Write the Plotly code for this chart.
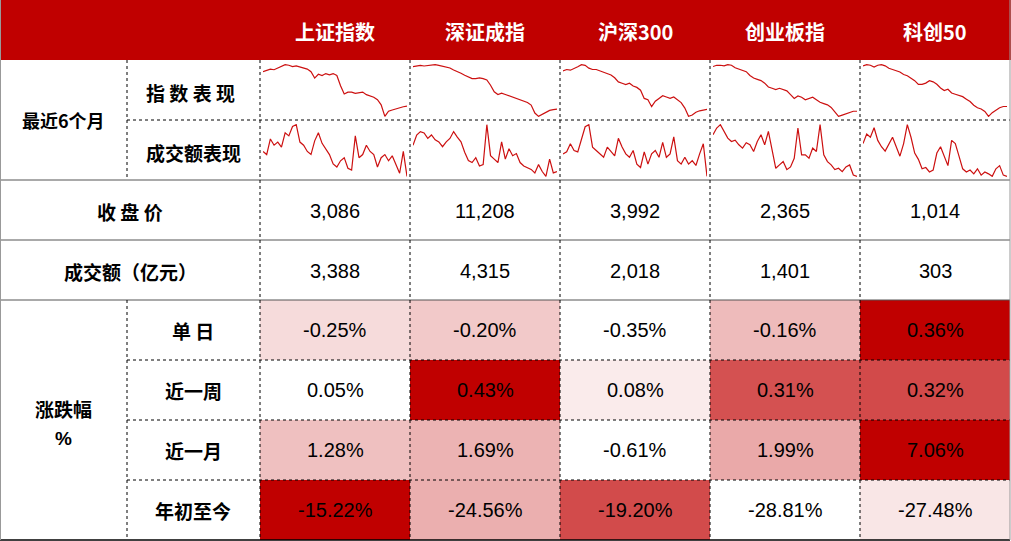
import plotly.graph_objects as go

W, H = 1011, 541
indices = ["上证指数", "深证成指", "沪深300", "创业板指", "科创50"]
close_px = ["3,086", "11,208", "3,992", "2,365", "1,014"]
turnover = ["3,388", "4,315", "2,018", "1,401", "303"]
period_labels = ["单日", "近一周", "近一月", "年初至今"]
changes = [
    [-0.25, -0.20, -0.35, -0.16, 0.36],
    [0.05, 0.43, 0.08, 0.31, 0.32],
    [1.28, 1.69, -0.61, 1.99, 7.06],
    [-15.22, -24.56, -19.20, -28.81, -27.48],
]
# sparkline data (estimated, relative levels)
idx_lines = [
    [80,82,84,83,86,88,91,90,88,89,87,86,84,80,70,76,74,77,75,77,74,58,45,48,48,46,47,48,44,42,40,36,28,10,18,20,22,24,25,26],
    [90,91,92,91,92,93,93,92,91,90,88,85,83,80,77,74,72,72,73,72,70,62,52,48,50,48,46,44,42,40,38,36,32,20,15,18,22,24,25,26],
    [82,84,83,85,88,91,90,86,84,84,82,80,78,76,72,66,64,62,64,60,58,54,42,40,30,38,42,46,44,42,44,40,36,28,16,18,22,24,25,26],
    [92,94,94,93,95,94,90,88,86,84,78,74,72,70,66,60,58,56,58,56,54,48,42,46,44,40,42,44,40,36,34,32,28,20,14,16,18,20,22,22],
    [94,96,95,92,95,96,94,90,88,86,84,80,78,74,70,64,64,66,70,68,64,58,54,56,50,48,46,44,40,36,30,26,24,20,12,18,22,26,28,28],
]
vol_lines = [
    [45,40,65,55,60,52,75,70,85,88,60,55,45,40,62,75,58,50,40,25,20,30,35,18,15,70,35,40,55,45,40,20,35,40,30,38,25,10,45,5],
    [50,65,70,68,60,65,58,55,48,55,60,70,62,55,40,28,25,32,20,22,80,35,30,25,55,30,45,35,38,25,20,18,15,10,22,12,5,30,10,12],
    [45,48,60,50,48,65,85,88,55,50,45,40,55,48,42,68,55,45,40,50,30,25,48,30,45,50,40,62,40,45,70,35,30,40,30,35,28,45,60,12],
    [70,80,85,75,65,60,62,55,50,58,55,45,60,70,55,75,50,20,25,30,18,22,35,80,40,40,35,50,45,85,40,30,25,18,20,15,22,25,10,8],
    [60,75,70,85,65,55,48,60,70,55,40,60,90,70,45,35,20,22,15,18,45,55,40,25,65,60,40,20,15,18,12,20,10,15,12,8,20,25,10,8],
]

def cell_color(v, lo, hi):
    t = 0 if hi == lo else (v - lo) / (hi - lo)
    r = round(255 + (192 - 255) * t)
    g = round(255 + (0 - 255) * t)
    b = round(255 + (0 - 255) * t)
    return f"rgb({r},{g},{b})"

col_x = [0, 127, 260, 410, 560, 710, 860, 1010]
row_y = [0, 60, 120, 180, 240, 300, 360, 420, 480, 540]
RED = "#C00000"
CJK = "Noto Sans CJK SC"
NUM = "Liberation Sans"

fig = go.Figure()
shapes, ann = [], []

def rect(x0, y0, x1, y1, color):
    shapes.append(dict(type="rect", xref="x", yref="y", x0=x0, x1=x1, y0=y0, y1=y1,
                       fillcolor=color, line=dict(width=0), layer="below"))

def line(x0, y0, x1, y1, dash="dot", color="black", width=1):
    shapes.append(dict(type="line", xref="x", yref="y", x0=x0, x1=x1, y0=y0, y1=y1,
                       line=dict(color=color, width=width, dash=dash)))

def text(x, y, s, font=CJK, size=19, color="black", bold=True):
    ann.append(dict(x=x, y=y, xref="x", yref="y", text=f"<b>{s}</b>" if bold else s,
                    showarrow=False, font=dict(family=font, size=size, color=color)))

# header
rect(0, 0, W, 60, RED)
for i, name in enumerate(indices):
    cx = (col_x[i + 2] + col_x[i + 3]) / 2
    text(cx, 31, name, size=20, color="white")

# left labels
text(63, 120, "最近6个月", size=18)
text(190, 92, "指 数 表 现", size=19)
text(193, 152, "成交额表现", size=19)
text(130, 211, "收 盘 价", size=19)
text(130, 271, "成交额（亿元）", size=19)
text(63, 408, "涨跌幅", size=19)
text(63, 438, "%", font=NUM, size=19)
for j, lab in enumerate(period_labels):
    text(193, (row_y[5 + j] + row_y[6 + j]) / 2, " ".join(lab) if len(lab) <= 2 else lab, size=19)

for i in range(5):
    cx = (col_x[i + 2] + col_x[i + 3]) / 2
    text(cx, 211, close_px[i], font=NUM, size=20, bold=False)
    text(cx, 271, turnover[i], font=NUM, size=20, bold=False)

for j, rowv in enumerate(changes):
    lo, hi = min(rowv), max(rowv)
    for i, v in enumerate(rowv):
        x0, x1 = col_x[i + 2], col_x[i + 3]
        y0, y1 = row_y[5 + j], row_y[6 + j]
        rect(x0, y0, x1, y1, cell_color(v, lo, hi))
        text((x0 + x1) / 2, (y0 + y1) / 2, f"{v:.2f}%", font=NUM, size=20, bold=False)

# grid lines
line(127, 120, 1010, 120)
line(127, 60, 127, 180)
line(0, 180, 1010, 180, dash="solid", color="#555", width=1)
line(0, 240, 1010, 240, dash="solid", color="#555", width=1)
line(0, 300, 1010, 300, dash="solid", color="#555", width=1)
for y in (360, 420, 480):
    line(127, y, 1010, y)
line(127, 300, 127, 540)
for x in col_x[2:7]:
    line(x, 60, x, 540)
line(0, 540, 1010, 540, dash="solid", color="black", width=1.5)
line(0.5, 0, 0.5, 540, dash="solid", color="#999")
line(1010, 0, 1010, 540, dash="solid", color="#999")

layout = dict(
    width=W, height=H, margin=dict(l=0, r=0, t=0, b=0),
    paper_bgcolor="white", plot_bgcolor="white", showlegend=False,
    xaxis=dict(range=[0, W], visible=False, domain=[0, 1], fixedrange=True),
    yaxis=dict(range=[H, 0], visible=False, domain=[0, 1], fixedrange=True),
    shapes=shapes, annotations=ann,
)

k = 2
for i in range(5):
    x0, x1 = col_x[i + 2] + 3, col_x[i + 3] - 3
    for r, data in enumerate((idx_lines[i], vol_lines[i])):
        y0, y1 = row_y[1 + r] + 4, row_y[2 + r] - 3
        fig.add_trace(go.Scatter(y=data, mode="lines", line=dict(color="#CC1010", width=1.2),
                                 xaxis=f"x{k}", yaxis=f"y{k}", hoverinfo="skip"))
        layout[f"xaxis{k}"] = dict(domain=[x0 / W, x1 / W], visible=False, fixedrange=True,
                                  range=[0, len(data) - 1])
        layout[f"yaxis{k}"] = dict(domain=[1 - y1 / H, 1 - y0 / H], visible=False, fixedrange=True,
                                  range=[min(data) - 1, max(data) + 1])
        k += 1

fig.update_layout(**layout)
fig.write_html("out.html", config={"displayModeBar": False},
               post_script="document.body.style.margin='0';document.body.style.overflow='hidden';")
